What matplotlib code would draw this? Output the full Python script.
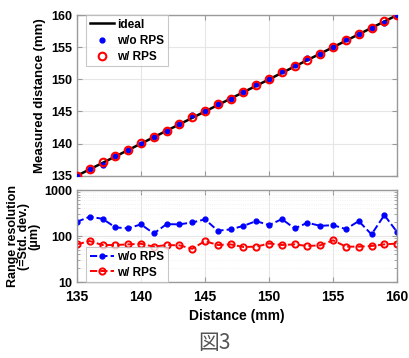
import matplotlib.pyplot as plt
import numpy as np

plt.rcParams['font.family'] = ['Liberation Sans', 'DejaVu Sans']
plt.rcParams['font.weight'] = 'bold'

distance = np.arange(135, 161)
ideal = distance.astype(float)
meas_wo = [135, 136, 136.7, 138, 139, 140, 141.1, 142, 143, 144.5, 145.1, 146.1, 147,
           148, 149.2, 150, 151.3, 152.2, 153.3, 154, 155, 156.3, 157, 158, 158.8, 160]
meas_w = [135, 136, 137.1, 138, 139, 140.1, 141.1, 142, 143, 144.1, 145, 146.1, 147,
          148, 149.1, 150, 151.1, 152, 153, 154, 155, 156.1, 157, 158, 159, 160]
res_wo = [205, 263, 238, 155, 147, 180, 114, 182, 180, 198, 231, 131, 140,
          167, 212, 173, 234, 147, 195, 167, 173, 142, 212, 109, 286, 122]
res_w = [66, 78, 64, 64, 66, 68, 59, 64, 63, 53, 78, 64, 66,
         58, 59, 69, 64, 66, 61, 63, 81, 59, 59, 61, 66, 69]

xticks = [135, 140, 145, 150, 155, 160]
spine_c = '#9a9a9a'

fig = plt.figure(figsize=(4.09, 3.58), dpi=100)
ax1 = fig.add_axes([0.188, 0.509, 0.783, 0.449])
ax2 = fig.add_axes([0.188, 0.212, 0.783, 0.257])

def style(ax):
    for s in ax.spines.values():
        s.set_color(spine_c)
        s.set_linewidth(1.0)
    ax.tick_params(which='both', direction='in', top=True, right=True, color=spine_c,
                   labelsize=9, pad=3)
    ax.set_xlim(135, 160)
    ax.set_xticks(xticks)

# top panel
ax1.plot(distance, ideal, color='black', lw=1.8, label='ideal', zorder=2)
ax1.plot(distance, meas_wo, 'o', color='blue', ms=3.5, label='w/o RPS', zorder=3)
ax1.plot(distance, meas_w, 'o', mfc='none', mec='red', mew=1.5, ms=5.5, label='w/ RPS', zorder=4)
style(ax1)
ax1.set_ylim(135, 160)
ax1.set_yticks([135, 140, 145, 150, 155, 160])
ax1.set_xticklabels([])
ax1.grid(True, color='#e6e6e6', lw=0.8)
ax1.set_ylabel('Measured distance (mm)', fontsize=9.5, fontweight='bold', labelpad=4)
leg1 = ax1.legend(loc='upper left', bbox_to_anchor=(0.03, 1.0), borderaxespad=0,
                  fontsize=8.5, frameon=True, fancybox=False, handlelength=2.0,
                  borderpad=0.3, labelspacing=0.35, handletextpad=0.3)
leg1.get_frame().set_edgecolor('#bbbbbb')
leg1.get_frame().set_linewidth(0.8)

# bottom panel
ax2.plot(distance, res_wo, '--', color='blue', marker='o', ms=3.5, lw=1.4, label='w/o RPS')
ax2.plot(distance, res_w, '--', color='red', marker='o', mfc='none', mec='red', mew=1.4,
         ms=4.5, lw=1.4, label='w/ RPS')
ax2.set_yscale('log')
style(ax2)
ax2.set_ylim(10, 1000)
ax2.set_yticks([10, 100, 1000])
ax2.set_yticklabels(['10', '100', '1000'])
ax2.tick_params(axis='x', labelsize=10, pad=6)
ax2.grid(True, which='major', color='#e6e6e6', lw=0.8)
ax2.grid(True, which='minor', color='#eeeeee', lw=0.6, ls=':')
ax2.set_ylabel('Range resolution\n(=Std. dev.)\n(\u03bcm)', fontsize=9, fontweight='bold',
               linespacing=0.85, labelpad=3)
ax2.set_xlabel('Distance (mm)', fontsize=10, fontweight='bold', labelpad=3)
leg2 = ax2.legend(loc='lower left', bbox_to_anchor=(0.03, 0.0), borderaxespad=0,
                  fontsize=8.5, frameon=True, fancybox=False, handlelength=2.0,
                  borderpad=0.3, labelspacing=0.3, handletextpad=0.3)
leg2.get_frame().set_edgecolor('#bbbbbb')
leg2.get_frame().set_linewidth(0.8)

fig.text(0.525, 0.01, '図3', fontsize=15, color='#555555', fontweight='normal',
         family=['Noto Sans CJK JP', 'DejaVu Sans'], ha='center', va='bottom')

fig.savefig('out.png', dpi=100)
